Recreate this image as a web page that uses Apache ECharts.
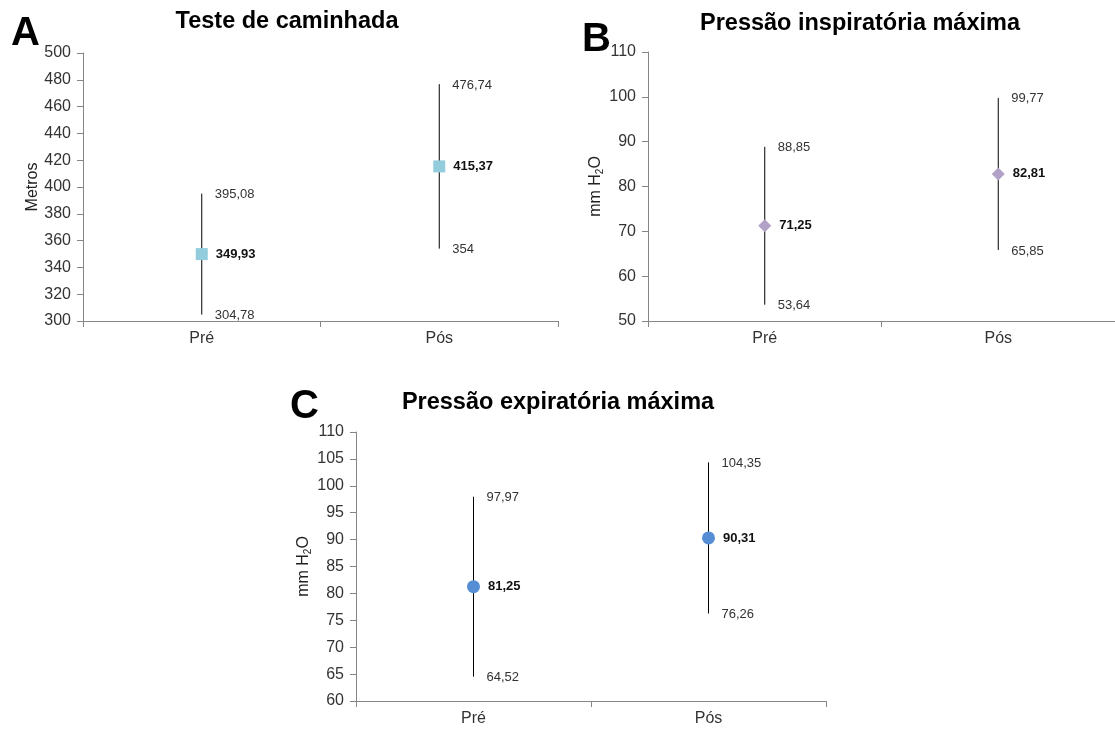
<!DOCTYPE html>
<html>
<head>
<meta charset="utf-8">
<script src="https://cdn.jsdelivr.net/npm/echarts@6/dist/echarts.min.js"></script>
<style>html,body{margin:0;padding:0;background:#fff}#c{width:1115px;height:730px}</style>
</head>
<body>
<div id="c"></div>
<script>
var categories = ['Pré', 'Pós'];

var caminhadaMean = [349.93, 415.37];
var caminhadaLow = [304.78, 354];
var caminhadaHigh = [395.08, 476.74];

var inspMean = [71.25, 82.81];
var inspLow = [53.64, 65.85];
var inspHigh = [88.85, 99.77];

var expMean = [81.25, 90.31];
var expLow = [64.52, 76.26];
var expHigh = [97.97, 104.35];

var titles = ['Teste de caminhada', 'Pressão inspiratória máxima', 'Pressão expiratória máxima'];
var panelLetters = ['A', 'B', 'C'];
var axisNames = ['Metros', 'mm H{sub|2}O', 'mm H{sub|2}O'];

var FONT = '"Liberation Sans", Arial, sans-serif';

function fmt(v) { return String(v).replace('.', ','); }

var chart = echarts.init(document.getElementById('c'), null, {renderer: 'canvas'});

var grids = [
  {left: 83, top: 53, width: 475, height: 268},
  {left: 648, top: 52, width: 467, height: 269},
  {left: 356, top: 432, width: 470, height: 269}
];
var yRanges = [[300, 500, 20], [50, 110, 10], [60, 110, 5]];
var panels = [
  {mean: caminhadaMean, low: caminhadaLow, high: caminhadaHigh, symbol: 'rect', color: '#93cddd', size: 12},
  {mean: inspMean, low: inspLow, high: inspHigh, symbol: 'diamond', color: '#b3a2c7', size: 13},
  {mean: expMean, low: expLow, high: expHigh, symbol: 'circle', color: '#558ed5', size: 13}
];

var xAxes = [], yAxes = [], series = [];
grids.forEach(function (g, i) {
  xAxes.push({
    type: 'category', gridIndex: i, data: categories, boundaryGap: true,
    axisLine: {lineStyle: {color: '#868686', width: 1}},
    axisTick: {show: true, length: 6, lineStyle: {color: '#868686'}},
    axisLabel: {color: '#333', fontSize: 16, fontFamily: FONT, margin: 10},
    splitLine: {show: false}
  });
  yAxes.push({
    type: 'value', gridIndex: i, min: yRanges[i][0], max: yRanges[i][1], interval: yRanges[i][2],
    name: axisNames[i], nameLocation: 'middle', nameGap: 42, nameRotate: 90,
    nameTextStyle: {color: '#222', fontSize: 16, fontFamily: FONT,
      rich: {sub: {fontSize: 10, fontFamily: FONT, color: '#222', padding: [9, 0, 0, 0]}}},
    axisLine: {show: true, lineStyle: {color: '#868686', width: 1}},
    axisTick: {show: true, length: 6, lineStyle: {color: '#868686'}},
    axisLabel: {color: '#333', fontSize: 16, fontFamily: FONT, margin: 12},
    splitLine: {show: false}
  });
  var p = panels[i];
  var errData = categories.map(function (c, k) { return [k, p.low[k], p.high[k]]; });
  series.push({
    type: 'custom', xAxisIndex: i, yAxisIndex: i, data: errData, z: 2,
    renderItem: function (params, api) {
      var x = api.value(0);
      var lo = api.value(1), hi = api.value(2);
      var pLo = api.coord([x, lo]);
      var pHi = api.coord([x, hi]);
      return {
        type: 'group',
        children: [
          {type: 'line', shape: {x1: pLo[0], y1: pLo[1], x2: pHi[0], y2: pHi[1]},
            style: {stroke: '#000', lineWidth: 1}},
          {type: 'text', style: {x: pHi[0] + 13, y: pHi[1] + 1, text: fmt(hi), fill: '#333',
            fontSize: 13, fontFamily: FONT, align: 'left', verticalAlign: 'middle'}},
          {type: 'text', style: {x: pLo[0] + 13, y: pLo[1] + 1, text: fmt(lo), fill: '#333',
            fontSize: 13, fontFamily: FONT, align: 'left', verticalAlign: 'middle'}}
        ]
      };
    }
  });
  series.push({
    type: 'scatter', xAxisIndex: i, yAxisIndex: i, data: p.mean, z: 3,
    symbol: p.symbol, symbolSize: p.size,
    itemStyle: {color: p.color, opacity: 1},
    label: {show: true, position: 'right', distance: 8, color: '#111', fontWeight: 'bold',
      fontSize: 13, fontFamily: FONT, formatter: function (d) { return fmt(d.value); }}
  });
});

chart.setOption({
  animation: false,
  backgroundColor: '#fff',
  title: [
    {text: titles[0], left: 282, top: 5, textAlign: 'center',
      textStyle: {fontSize: 23.5, fontWeight: 'bold', color: '#000', fontFamily: FONT}},
    {text: titles[1], left: 855, top: 7, textAlign: 'center',
      textStyle: {fontSize: 23.5, fontWeight: 'bold', color: '#000', fontFamily: FONT}},
    {text: titles[2], left: 553, top: 386, textAlign: 'center',
      textStyle: {fontSize: 23.5, fontWeight: 'bold', color: '#000', fontFamily: FONT}},
    {text: panelLetters[0], left: 6, top: 9, textStyle: {fontSize: 40, fontWeight: 'bold', color: '#000', fontFamily: FONT}},
    {text: panelLetters[1], left: 577, top: 15, textStyle: {fontSize: 40, fontWeight: 'bold', color: '#000', fontFamily: FONT}},
    {text: panelLetters[2], left: 285, top: 382, textStyle: {fontSize: 40, fontWeight: 'bold', color: '#000', fontFamily: FONT}}
  ],
  grid: grids,
  xAxis: xAxes,
  yAxis: yAxes,
  series: series
});
</script>
</body>
</html>
